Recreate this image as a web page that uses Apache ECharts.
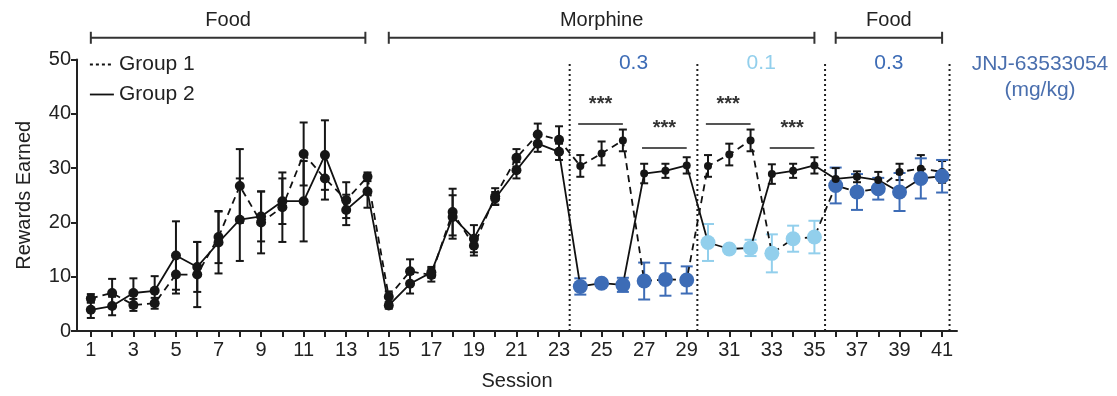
<!DOCTYPE html>
<html>
<head>
<meta charset="utf-8">
<script src="https://cdn.jsdelivr.net/npm/echarts@6/dist/echarts.min.js"></script>
<style>
  html, body { margin: 0; padding: 0; background: #fff; }
  #chart { width: 1117px; height: 396px; }
</style>
</head>
<body>
<div id="chart"></div>
<script>
// sessions and tick labels
const sessions = [1, 2, 3, 4, 5, 6, 7, 8, 9, 10, 11, 12, 13, 14, 15, 16, 17, 18, 19, 20, 21,
  22, 23, 24, 25, 26, 27, 28, 29, 30, 31, 32, 33, 34, 35, 36, 37, 38, 39, 40, 41];
const xLabels = [1, 3, 5, 7, 9, 11, 13, 15, 17, 19, 21, 23, 25, 27, 29, 31, 33, 35, 37, 39, 41];
const yTicks = [0, 10, 20, 30, 40, 50];

// Group 1 (dashed)
const group1 = [6.0, 7.0, 4.8, 5.1, 10.4, 10.4, 17.3, 26.7, 20.0, 22.8, 32.6, 28.1, 24.1, 28.4,
  6.3, 11.0, 10.3, 21.9, 15.7, 24.8, 31.9, 36.2, 35.2,
  30.4, 32.7, 35.1, 9.2, 9.5, 9.4, 30.4, 32.5, 35.1, 14.3, 17.0, 17.3,
  26.8, 25.6, 26.2, 29.3, 29.9, 29.3];
const group1Err = [0.8, 2.6, 1.1, 1.0, 3.5, 6.0, 4.8, 6.8, 5.7, 6.4, 5.8, 3.9, 3.3, 0.8,
  1.0, 2.2, 1.2, 4.3, 1.8, 1.5, 1.6, 2.0, 2.5,
  2.0, 2.2, 2.0, 3.4, 3.0, 2.5, 2.0, 2.0, 2.0, 3.5, 2.4, 3.0,
  3.3, 3.3, 2.0, 1.5, 2.5, 2.0];
// 0 = none, 1 = 0.3 mg/kg, 2 = 0.1 mg/kg
const group1Dose = [0, 0, 0, 0, 0, 0, 0, 0, 0, 0, 0, 0, 0, 0, 0, 0, 0, 0, 0, 0, 0, 0, 0,
  0, 0, 0, 1, 1, 1, 0, 0, 0, 2, 2, 2, 1, 1, 1, 0, 0, 0];

// Group 2 (solid)
const group2 = [3.9, 4.6, 7.0, 7.4, 13.9, 11.8, 16.3, 20.5, 21.1, 23.9, 23.9, 32.4, 22.3, 25.7,
  4.7, 8.7, 10.8, 21.0, 17.0, 24.4, 29.6, 34.5, 33.0,
  8.2, 8.8, 8.5, 29.0, 29.5, 30.5, 16.3, 15.1, 15.3, 28.9, 29.5, 30.5,
  28.0, 28.4, 27.8, 25.6, 28.1, 28.5];
const group2Err = [1.5, 1.7, 2.7, 2.7, 6.3, 4.6, 5.7, 7.6, 4.6, 4.2, 7.4, 6.4, 2.8, 3.0,
  0.6, 1.8, 1.0, 4.0, 2.5, 1.2, 1.5, 1.5, 1.5,
  1.5, 0.5, 1.3, 1.8, 1.3, 1.5, 3.4, 0.5, 1.5, 1.8, 1.3, 1.5,
  2.0, 1.0, 1.5, 3.5, 3.7, 3.0];
const group2Dose = [0, 0, 0, 0, 0, 0, 0, 0, 0, 0, 0, 0, 0, 0, 0, 0, 0, 0, 0, 0, 0, 0, 0,
  1, 1, 1, 0, 0, 0, 2, 2, 2, 0, 0, 0, 0, 0, 0, 1, 1, 1];

// annotations
const periodNames = ['Food', 'Morphine', 'Food'];
const periodStart = [1, 15, 36];
const periodEnd = [13.9, 35, 41];
const phaseBreaks = [23.5, 29.5, 35.5, 41.35];
const sigStart = [23.9, 26.9, 29.9, 32.9];
const sigEnd = [26, 29, 32, 35];
const sigLevel = [38.1, 33.7, 38.1, 33.7];
const doseNames = ['0.3', '0.1', '0.3'];
const doseAt = [26.5, 32.5, 38.5];
const doseCode = [1, 2, 1];

const doseColors = ['#161616', '#3d6cb6', '#92cfec'];
const FONT = '"Liberation Sans", Arial, sans-serif';
const ink = '#222';

const chart = echarts.init(document.getElementById('chart'), null, { renderer: 'canvas' });

function pointData(vals, doses) {
  return sessions.map((s, i) => ({
    value: [s, vals[i]],
    symbolSize: doses[i] ? 15 : (s > 23 ? 8 : 10),
    itemStyle: { color: doseColors[doses[i]] }
  }));
}

function errData(vals, errs, doses) {
  return sessions.map((s, i) => [s, vals[i] - errs[i], vals[i] + errs[i], doses[i]]);
}

function renderErr(params, api) {
  const x = api.value(0);
  const lo = api.coord([x, api.value(1)]);
  const hi = api.coord([x, api.value(2)]);
  const code = api.value(3);
  const half = code ? 6 : 4;
  const color = doseColors[code];
  const st = { stroke: color, lineWidth: 2 };
  return {
    type: 'group',
    children: [
      { type: 'line', shape: { x1: lo[0], y1: lo[1], x2: hi[0], y2: hi[1] }, style: st },
      { type: 'line', shape: { x1: lo[0] - half, y1: lo[1], x2: lo[0] + half, y2: lo[1] }, style: st },
      { type: 'line', shape: { x1: hi[0] - half, y1: hi[1], x2: hi[0] + half, y2: hi[1] }, style: st }
    ]
  };
}

const option = {
  animation: false,
  grid: { left: 77, right: 160, top: 59.5, bottom: 63.5 },
  legend: {
    orient: 'vertical',
    left: 84,
    top: 49,
    itemWidth: 24,
    itemHeight: 12,
    itemGap: 9,
    itemStyle: { opacity: 0 },
    textStyle: { fontFamily: FONT, fontSize: 21, color: ink },
    data: [
      { name: 'Group 1', lineStyle: { type: [3, 3], width: 1.8, color: '#111' } },
      { name: 'Group 2', lineStyle: { type: 'solid', width: 1.8, color: '#111' } }
    ]
  },
  xAxis: {
    type: 'value',
    min: 0.35,
    max: 41.7,
    name: 'Session',
    nameLocation: 'middle',
    nameGap: 40,
    nameTextStyle: { fontFamily: FONT, fontSize: 20, color: ink },
    axisLine: { lineStyle: { color: ink, width: 2 } },
    axisTick: { length: 6, lineStyle: { color: ink, width: 2 }, customValues: sessions },
    axisLabel: { customValues: xLabels, fontFamily: FONT, fontSize: 20, color: ink, margin: 9 },
    splitLine: { show: false }
  },
  yAxis: {
    type: 'value',
    min: 0,
    max: 50,
    interval: 10,
    name: 'Rewards Earned',
    nameLocation: 'middle',
    nameGap: 43,
    nameTextStyle: { fontFamily: FONT, fontSize: 20, color: ink },
    axisLine: { show: true, lineStyle: { color: ink, width: 2 } },
    axisTick: { show: true, length: 6, lineStyle: { color: ink, width: 2 } },
    axisLabel: { customValues: yTicks, fontFamily: FONT, fontSize: 20, color: ink, margin: 6 },
    splitLine: { show: false }
  },
  series: [
    {
      name: 'phase breaks',
      type: 'custom',
      silent: true,
      z: 1,
      data: phaseBreaks.map(v => [v]),
      renderItem: (params, api) => {
        const a = api.coord([api.value(0), 0]);
        const b = api.coord([api.value(0), 49.5]);
        return {
          type: 'line',
          shape: { x1: a[0], y1: a[1], x2: b[0], y2: b[1] },
          style: { stroke: ink, lineWidth: 2, lineDash: [2, 3] }
        };
      }
    },
    {
      name: 'err1', type: 'custom', silent: true, z: 2,
      data: errData(group1, group1Err, group1Dose), renderItem: renderErr
    },
    {
      name: 'err2', type: 'custom', silent: true, z: 2,
      data: errData(group2, group2Err, group2Dose), renderItem: renderErr
    },
    {
      name: 'Group 1',
      type: 'line',
      z: 3,
      symbol: 'circle',
      showAllSymbol: true,
      color: '#111',
      lineStyle: { color: '#111', width: 1.8, type: [7, 5] },
      data: pointData(group1, group1Dose)
    },
    {
      name: 'Group 2',
      type: 'line',
      z: 3,
      symbol: 'circle',
      showAllSymbol: true,
      color: '#111',
      lineStyle: { color: '#111', width: 1.8, type: 'solid' },
      data: pointData(group2, group2Dose)
    },
    {
      name: 'periods',
      type: 'custom',
      silent: true,
      data: periodNames.map((n, i) => [periodStart[i], periodEnd[i], i]),
      renderItem: (params, api) => {
        const a = api.coord([api.value(0), 54]);
        const b = api.coord([api.value(1), 54]);
        const st = { stroke: '#333', lineWidth: 2 };
        return {
          type: 'group',
          children: [
            { type: 'line', shape: { x1: a[0], y1: a[1], x2: b[0], y2: b[1] }, style: st },
            { type: 'line', shape: { x1: a[0], y1: a[1] - 6, x2: a[0], y2: a[1] + 6 }, style: st },
            { type: 'line', shape: { x1: b[0], y1: b[1] - 6, x2: b[0], y2: b[1] + 6 }, style: st },
            {
              type: 'text',
              x: (a[0] + b[0]) / 2,
              y: a[1] - 17,
              style: {
                text: periodNames[api.value(2)], fill: ink, font: '20px ' + FONT,
                align: 'center', verticalAlign: 'middle'
              }
            }
          ]
        };
      }
    },
    {
      name: 'significance',
      type: 'custom',
      silent: true,
      data: sigStart.map((s, i) => [s, sigEnd[i], sigLevel[i]]),
      renderItem: (params, api) => {
        const a = api.coord([api.value(0), api.value(2)]);
        const b = api.coord([api.value(1), api.value(2)]);
        return {
          type: 'group',
          children: [
            { type: 'line', shape: { x1: a[0], y1: a[1], x2: b[0], y2: b[1] }, style: { stroke: '#555', lineWidth: 2 } },
            {
              type: 'text',
              x: (a[0] + b[0]) / 2,
              y: a[1] - 20,
              style: {
                text: '***', fill: '#333', font: 'bold 20px ' + FONT,
                align: 'center', verticalAlign: 'middle'
              }
            }
          ]
        };
      }
    },
    {
      name: 'doses',
      type: 'custom',
      silent: true,
      data: doseNames.map((n, i) => [doseAt[i], i]),
      renderItem: (params, api) => {
        const i = api.value(1);
        const p = api.coord([api.value(0), 49.3]);
        return {
          type: 'text',
          x: p[0],
          y: p[1],
          style: {
            text: doseNames[i], fill: doseColors[doseCode[i]], font: '21px ' + FONT,
            align: 'center', verticalAlign: 'middle'
          }
        };
      }
    },
    {
      name: 'drug',
      type: 'custom',
      silent: true,
      data: [[45.6]],
      renderItem: (params, api) => {
        const p = api.coord([api.value(0), 49.3]);
        return {
          type: 'text',
          x: p[0],
          y: p[1] - 12,
          style: {
            text: 'JNJ-63533054\n(mg/kg)', fill: '#4a6fae', font: '21px ' + FONT,
            lineHeight: 26, align: 'center', verticalAlign: 'top'
          }
        };
      }
    }
  ]
};

chart.setOption(option);
</script>
</body>
</html>
